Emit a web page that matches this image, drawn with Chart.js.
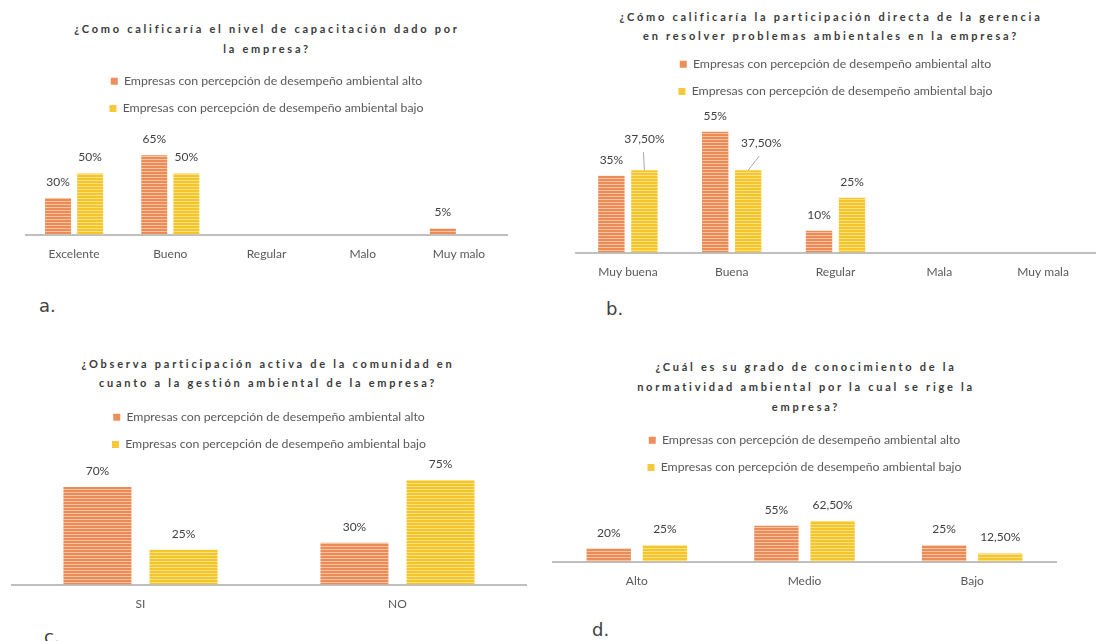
<!DOCTYPE html>
<html>
<head>
<meta charset="utf-8">
<script src="https://cdn.jsdelivr.net/npm/chart.js@4.4.0/dist/chart.umd.min.js"></script>
<style>
  body { margin: 0; background: #fff; }
  #page { position: relative; width: 1113px; height: 641px; overflow: hidden; font-family: Lato, sans-serif; }
  .title { position: absolute; text-align: center; font-weight: bold; font-size: 11px; letter-spacing: 2.75px; color: #3a3a3a; }
  .tag { position: absolute; font-family: 'DejaVu Sans', sans-serif; font-size: 18px; color: #404040; line-height: 20px; }
  canvas { position: absolute; }
</style>
</head>
<body>
<div id="page">
  <div class="title" style="left:0;top:19px;width:534px;line-height:20px">¿Como calificaría el nivel de capacitación dado por<br>la empresa?</div>
  <div class="title" style="left:560px;top:7px;width:542px;line-height:19px">¿Cómo calificaría la participación directa de la gerencia<br>en resolver problemas ambientales en la empresa?</div>
  <div class="title" style="left:0;top:354px;width:536px;line-height:19px">¿Observa participación activa de la comunidad en<br>cuanto a la gestión ambiental de la empresa?</div>
  <div class="title" style="left:560px;top:357px;width:492px;line-height:20px">¿Cuál es su grado de conocimiento de la<br>normatividad ambiental por la cual se rige la<br>empresa?</div>

  <canvas id="chartA" width="540" height="213" style="left:0;top:60px"></canvas>
  <canvas id="chartB" width="553" height="248" style="left:560px;top:43px"></canvas>
  <canvas id="chartC" width="540" height="227" style="left:0;top:396px"></canvas>
  <canvas id="chartD" width="560" height="181" style="left:545px;top:419px"></canvas>

  <div class="tag" style="left:39px;top:296px">a.</div>
  <div class="tag" style="left:606px;top:299px">b.</div>
  <div class="tag" style="left:44px;top:627px">c.</div>
  <div class="tag" style="left:592px;top:620px">d.</div>
</div>
<script>
var SERIES_ALTO = 'Empresas con percepción de desempeño ambiental alto';
var SERIES_BAJO = 'Empresas con percepción de desempeño ambiental bajo';

// a. nivel de capacitación
var catsA = ['Excelente', 'Bueno', 'Regular', 'Malo', 'Muy malo'];
var altoA = [30, 65, 0, 0, 5];
var bajoA = [50, 50, 0, 0, 0];

// b. participación de la gerencia
var catsB = ['Muy buena', 'Buena', 'Regular', 'Mala', 'Muy mala'];
var altoB = [35, 55, 10, 0, 0];
var bajoB = [37.5, 37.5, 25, 0, 0];

// c. participación de la comunidad
var catsC = ['SI', 'NO'];
var altoC = [70, 30];
var bajoC = [25, 75];

// d. conocimiento de la normatividad
var catsD = ['Alto', 'Medio', 'Bajo'];
var altoD = [20, 55, 25];
var bajoD = [25, 62.5, 12.5];

var FONT = 'Lato, sans-serif';

function stripes(base, light) {
	var c = document.createElement('canvas');
	c.width = 4; c.height = 3;
	var x = c.getContext('2d');
	x.fillStyle = base; x.fillRect(0, 0, 4, 3);
	x.fillStyle = light; x.fillRect(0, 0, 4, 1);
	return x.createPattern(c, 'repeat');
}

var orange = stripes('#ec8b55', '#f6c4a2');
var yellow = stripes('#f6c52c', '#fbe183');
// plain fills for the legend squares
var legendFill = ['#ed8f5a', '#f7c93a'];

function pct(v) {
	return (Number.isInteger(v) ? v : v.toFixed(2).replace('.', ',')) + '%';
}

// value labels above each bar, with an optional shifted position + leader line
var barLabels = {
	id: 'barLabels',
	afterDatasetsDraw: function (chart, args, opts) {
		var ctx = chart.ctx;
		var shift = opts.shift || {};
		ctx.save();
		ctx.font = '12px ' + FONT;
		ctx.fillStyle = '#404040';
		ctx.textAlign = 'center';
		ctx.textBaseline = 'alphabetic';
		chart.data.datasets.forEach(function (ds, di) {
			chart.getDatasetMeta(di).data.forEach(function (bar, i) {
				var v = ds.data[i];
				if (!v) return;
				var x = bar.x, y = bar.y - 12;
				var off = shift[di + ':' + i];
				if (off) {
					x += off[0]; y += off[1];
					ctx.strokeStyle = '#a6a6a6';
					ctx.lineWidth = 1;
					ctx.beginPath();
					ctx.moveTo(x - (off[0] ? 2 : 1), y + 9);
					ctx.lineTo(bar.x, bar.y);
					ctx.stroke();
				}
				ctx.fillText(pct(v), x, y);
			});
		});
		ctx.restore();
	}
};
Chart.register(barLabels);

function groupedBars(id, cats, alto, bajo, o) {
	return new Chart(document.getElementById(id), {
		type: 'bar',
		data: {
			labels: cats,
			datasets: [
				{ label: SERIES_ALTO, data: alto, backgroundColor: orange, borderWidth: 0 },
				{ label: SERIES_BAJO, data: bajo, backgroundColor: yellow, borderWidth: 0 }
			]
		},
		options: {
			responsive: false,
			animation: false,
			categoryPercentage: o.cat,
			barPercentage: o.bar,
			layout: { padding: { left: o.left, right: o.right, top: 0, bottom: 0 } },
			plugins: {
				tooltip: { enabled: false },
				legend: {
					position: 'top',
					labels: {
						boxWidth: 7, boxHeight: 7, padding: 15, color: '#595959',
						font: { family: FONT, size: 12.3 },
						generateLabels: function (chart) {
							var items = Chart.defaults.plugins.legend.labels.generateLabels(chart);
							items.forEach(function (it, i) { it.fillStyle = legendFill[i]; });
							return items;
						}
					}
				},
				barLabels: { shift: o.shift }
			},
			scales: {
				x: {
					grid: { display: false, drawTicks: false },
					border: { color: '#bfbfbf', width: 2 },
					ticks: { color: '#595959', padding: 12, font: { family: FONT, size: 12 } }
				},
				y: { display: false, min: 0, max: o.max }
			}
		}
	});
}

groupedBars('chartA', catsA, altoA, bajoA, { max: 90, left: 26, right: 33, cat: 0.667, bar: 0.81 });
groupedBars('chartB', catsB, altoB, bajoB, { max: 66, left: 16, right: 18, cat: 0.636, bar: 0.80,
	shift: { '1:0': [0, -15], '1:1': [13, -11] } });
groupedBars('chartC', catsC, altoC, bajoC, { max: 89, left: 12, right: 14, cat: 0.67, bar: 0.79 });
groupedBars('chartD', catsD, altoD, bajoD, { max: 120, left: 8, right: 49, cat: 0.67, bar: 0.79 });
</script>
</body>
</html>
